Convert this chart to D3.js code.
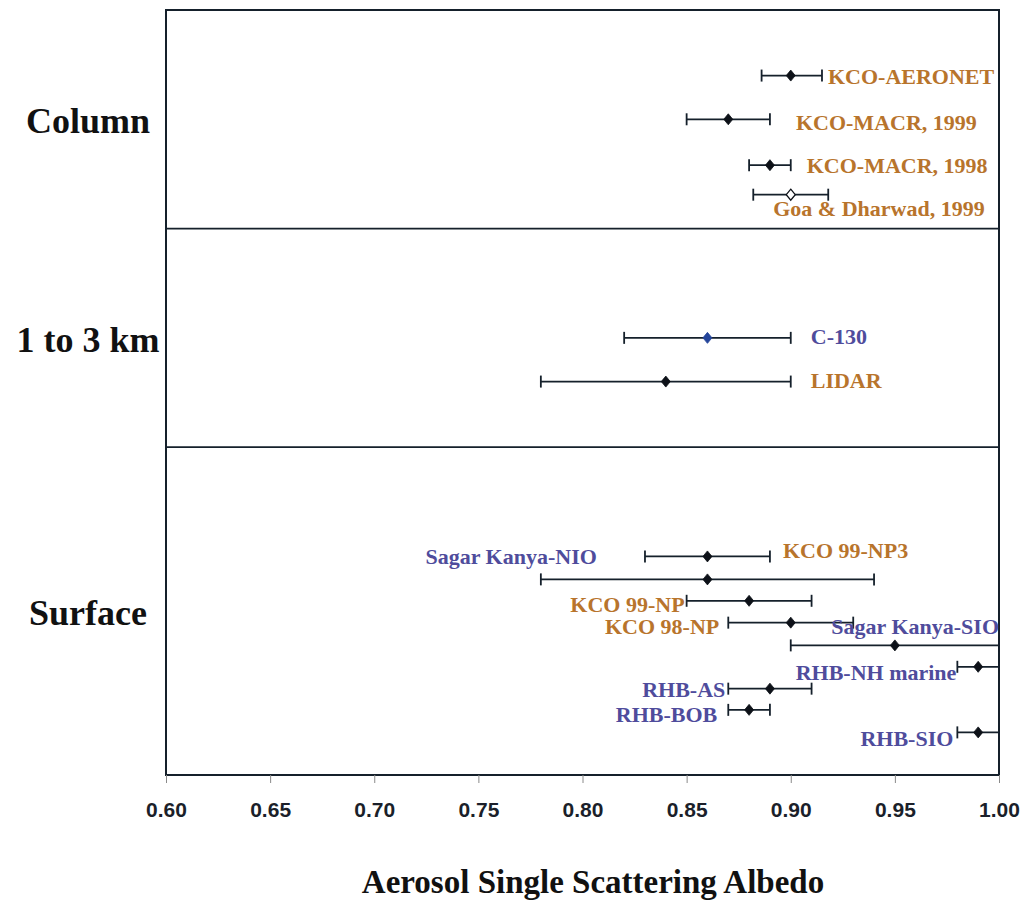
<!DOCTYPE html>
<html><head><meta charset="utf-8">
<script src="https://cdn.jsdelivr.net/npm/d3@7"></script>
<style>
html,body{margin:0;padding:0;background:#fff;}
svg{display:block;}
</style></head>
<body>
<svg id="chart" width="1023" height="900"></svg>
<script>
// ---------- data ----------
const panels = ["Column", "1 to 3 km", "Surface"];
const panelBounds = [0, 10, 20, 35];           // row-unit boundaries of the three panels
const xTicks = [0.60, 0.65, 0.70, 0.75, 0.80, 0.85, 0.90, 0.95, 1.00];
const tickLabels = ["0.60","0.65","0.70","0.75","0.80","0.85","0.90","0.95","1.00"];

const names = ["KCO-AERONET","KCO-MACR, 1999","KCO-MACR, 1998","Goa & Dharwad, 1999",
               "C-130","LIDAR",
               "KCO 99-NP3","Sagar Kanya-NIO","KCO 99-NP","KCO 98-NP","Sagar Kanya-SIO",
               "RHB-NH marine","RHB-AS","RHB-BOB","RHB-SIO"];
const panelOf = [0,0,0,0, 1,1, 2,2,2,2,2,2,2,2,2];
const rowPos  = [3,5,7.1,8.45, 15,17, 25,26.05,27.03,28.03,29.07,30.05,31.05,32.02,33.05];
const ssa     = [0.90,0.87,0.89,0.90, 0.86,0.84, 0.86,0.86,0.88,0.90,0.95,0.99,0.89,0.88,0.99];
const ssaLow  = [0.886,0.85,0.88,0.882, 0.82,0.78, 0.83,0.78,0.85,0.87,0.90,0.98,0.87,0.87,0.98];
const ssaHigh = [0.915,0.89,0.90,0.918, 0.90,0.90, 0.89,0.94,0.91,0.93,1.00,1.00,0.91,0.89,1.00];
const group   = ["KCO","KCO","KCO","KCO", "other","KCO", "KCO","SK","KCO","KCO","SK","RHB","RHB","RHB","RHB"];
const marker  = ["filled","filled","filled","open", "blue","filled", "filled","filled","filled","filled","filled","filled","filled","filled","filled"];

// ---------- layout / style (not data) ----------
const W = 1023, H = 900;
const plot = {left:166, right:999, top:10, bottom:775};
const orange = "#b8742c", blue = "#4f4c9c", ink = "#15202b";
const colorOf = {KCO: orange, SK: blue, RHB: blue, other: blue};
// label placement: anchor, reference end of the bar, dx, dy
const labelLayout = {
  "KCO-AERONET":        {a:"start", ref:"hi", dx:6,  dy:8},
  "KCO-MACR, 1999":     {a:"start", ref:"hi", dx:26, dy:11},
  "KCO-MACR, 1998":     {a:"start", ref:"hi", dx:16, dy:8},
  "Goa & Dharwad, 1999":{a:"start", ref:"lo", dx:20, dy:21},
  "C-130":              {a:"start", ref:"hi", dx:20, dy:6},
  "LIDAR":              {a:"start", ref:"hi", dx:20, dy:6},
  "KCO 99-NP3":         {a:"start", ref:"hi", dx:13, dy:2},
  "Sagar Kanya-NIO":    {a:"end",   ref:"lo", dx:56, dy:-15},
  "KCO 99-NP":          {a:"end",   ref:"lo", dx:-2, dy:11},
  "KCO 98-NP":          {a:"end",   ref:"lo", dx:-9, dy:11},
  "Sagar Kanya-SIO":    {a:"end",   ref:"hi", dx:0,  dy:-11},
  "RHB-NH marine":      {a:"end",   ref:"lo", dx:-1, dy:13},
  "RHB-AS":             {a:"end",   ref:"lo", dx:-3, dy:8},
  "RHB-BOB":            {a:"end",   ref:"lo", dx:-11,dy:12},
  "RHB-SIO":            {a:"end",   ref:"lo", dx:-4, dy:14}
};

const svg = d3.select("#chart");
svg.append("rect").attr("width",W).attr("height",H).attr("fill","#fff");

const x = d3.scaleLinear().domain([0.6, 1.0]).range([plot.left, plot.right]);
const y = d3.scaleLinear().domain([0, 35]).range([plot.top, plot.bottom]);

// panel dividers
svg.selectAll("line.div").data(panelBounds.slice(1, -1)).join("line")
  .attr("x1", plot.left).attr("x2", plot.right)
  .attr("y1", d => y(d)).attr("y2", d => y(d))
  .attr("stroke", ink).attr("stroke-width", 1.8);

// frame
svg.append("rect").attr("x", plot.left).attr("y", plot.top)
  .attr("width", plot.right - plot.left).attr("height", plot.bottom - plot.top)
  .attr("fill", "none").attr("stroke", ink).attr("stroke-width", 2);

// x axis
const axis = d3.axisBottom(x).tickValues(xTicks)
  .tickFormat((d, i) => tickLabels[i]).tickSize(8).tickPadding(19);
const gx = svg.append("g").attr("transform", `translate(0,${plot.bottom})`).call(axis);
gx.select(".domain").remove();
gx.selectAll(".tick line").attr("stroke", "#8a8a8a").attr("stroke-width", 1);
gx.selectAll(".tick text")
  .attr("font-family", "'Liberation Sans', Arial, sans-serif")
  .attr("font-weight", "bold").attr("font-size", 21).attr("fill", "#1b1f2a");

// panel (row) labels
svg.selectAll("text.panel").data(panels).join("text")
  .attr("x", 88)
  .attr("y", (d, i) => (y(panelBounds[i]) + y(panelBounds[i + 1])) / 2 + 14)
  .attr("text-anchor", "middle")
  .attr("font-family", "'Liberation Serif', 'Times New Roman', serif")
  .attr("font-weight", "bold").attr("font-size", 36).attr("fill", "#111")
  .text(d => d);

// axis title
svg.append("text").attr("x", 593).attr("y", 893).attr("text-anchor", "middle")
  .attr("font-family", "'Liberation Serif', 'Times New Roman', serif")
  .attr("font-weight", "bold").attr("font-size", 33).attr("fill", "#111")
  .text("Aerosol Single Scattering Albedo");

// records
const rows = names.map((n, i) => ({name:n, panel:panelOf[i], pos:rowPos[i], v:ssa[i],
  lo:ssaLow[i], hi:ssaHigh[i], group:group[i], marker:marker[i]}));

const g = svg.append("g");
const cap = 6;
const rg = g.selectAll("g.row").data(rows).join("g").attr("class", "row");
rg.append("line").attr("x1", d => x(d.lo)).attr("x2", d => x(d.hi))
  .attr("y1", d => y(d.pos)).attr("y2", d => y(d.pos))
  .attr("stroke", ink).attr("stroke-width", 1.8);
rg.append("line").attr("x1", d => x(d.lo)).attr("x2", d => x(d.lo))
  .attr("y1", d => y(d.pos) - cap).attr("y2", d => y(d.pos) + cap)
  .attr("stroke", ink).attr("stroke-width", 1.8);
rg.append("line").attr("x1", d => x(d.hi)).attr("x2", d => x(d.hi))
  .attr("y1", d => y(d.pos) - cap).attr("y2", d => y(d.pos) + cap)
  .attr("stroke", ink).attr("stroke-width", 1.8);
rg.append("path")
  .attr("d", d => {
    const cx = x(d.v), cy = y(d.pos), hw = 4.5, hh = 5.5;
    return `M${cx},${cy - hh}L${cx + hw},${cy}L${cx},${cy + hh}L${cx - hw},${cy}Z`;
  })
  .attr("fill", d => d.marker === "open" ? "#fff" : d.marker === "blue" ? "#24459a" : "#0d1118")
  .attr("stroke", d => d.marker === "blue" ? "#24459a" : "#0d1118")
  .attr("stroke-width", d => d.marker === "open" ? 1.3 : 0.8);

rg.append("text")
  .attr("x", d => { const L = labelLayout[d.name]; return x(L.ref === "hi" ? d.hi : d.lo) + L.dx; })
  .attr("y", d => y(d.pos) + labelLayout[d.name].dy)
  .attr("text-anchor", d => labelLayout[d.name].a)
  .attr("font-family", "'Liberation Serif', 'Times New Roman', serif")
  .attr("font-weight", "bold").attr("font-size", 22)
  .attr("fill", d => colorOf[d.group])
  .text(d => d.name);
</script>
</body></html>
